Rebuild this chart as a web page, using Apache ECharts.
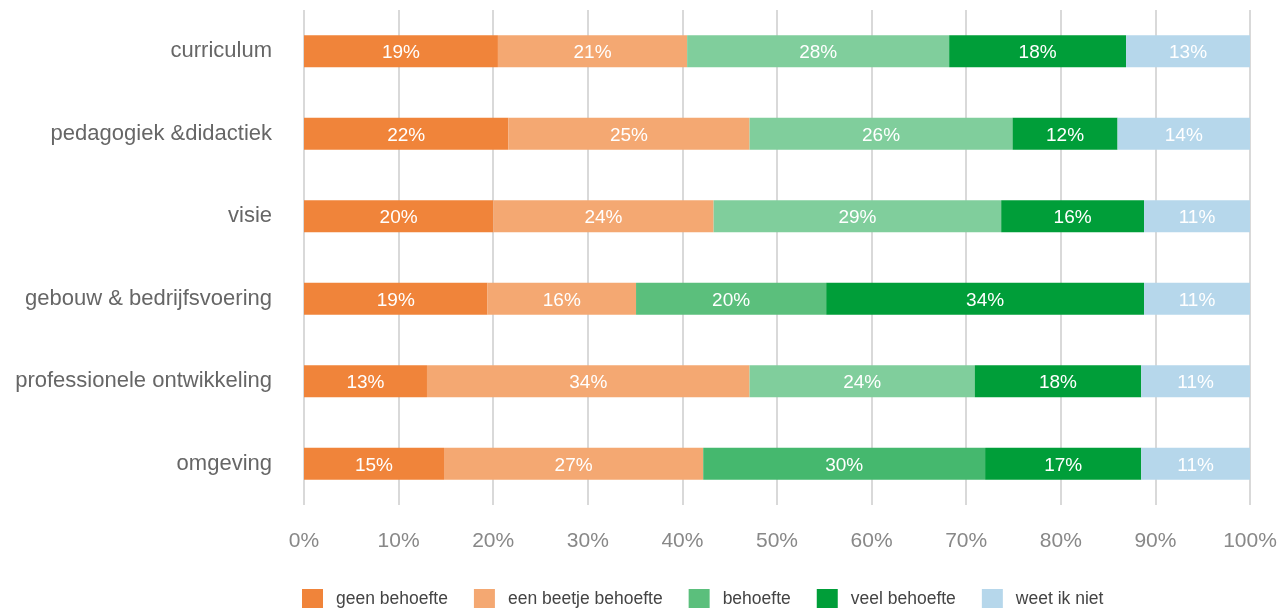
<!DOCTYPE html>
<html>
<head>
<meta charset="utf-8">
<script src="https://cdn.jsdelivr.net/npm/echarts@6/dist/echarts.min.js"></script>
<style>html,body{margin:0;padding:0;background:#fff}#c{width:1280px;height:608px}</style>
</head>
<body>
<div id="c"></div>
<script>
const categories = ["curriculum", "pedagogiek &didactiek", "visie", "gebouw & bedrijfsvoering", "professionele ontwikkeling", "omgeving"];
const seriesNames = ["geen behoefte", "een beetje behoefte", "behoefte", "veel behoefte", "weet ik niet"];
// segment widths (percent of row)
const geenBehoefte = [20.5, 21.6, 20.0, 19.4, 13.0, 14.8];
const beetjeBehoefte = [20.0, 25.5, 23.3, 15.7, 34.1, 27.4];
const behoefte = [27.7, 27.8, 30.4, 20.1, 23.8, 29.8];
const veelBehoefte = [18.7, 11.1, 15.1, 33.6, 17.6, 16.5];
const weetIkNiet = [13.1, 14.0, 11.2, 11.2, 11.5, 11.5];
// printed labels
const geenLabels = [19, 22, 20, 19, 13, 15];
const beetjeLabels = [21, 25, 24, 16, 34, 27];
const behoefteLabels = [28, 26, 29, 20, 24, 30];
const veelLabels = [18, 12, 16, 34, 18, 17];
const weetLabels = [13, 14, 11, 11, 11, 11];
const xTicks = [0, 10, 20, 30, 40, 50, 60, 70, 80, 90, 100];

const colors = ["#f0843a", "#f4a872", "#5bbf7c", "#009e39", "#b6d7eb"];
const behoefteRowColors = ["#80ce9c", "#80ce9c", "#80ce9c", "#5bbf7c", "#80ce9c", "#45b86e"];

const values = [geenBehoefte, beetjeBehoefte, behoefte, veelBehoefte, weetIkNiet];
const labels = [geenLabels, beetjeLabels, behoefteLabels, veelLabels, weetLabels];

const font = "'Liberation Sans', Arial, sans-serif";

const series = seriesNames.map((name, si) => ({
  name: name,
  type: 'bar',
  stack: 'total',
  barWidth: 32,
  itemStyle: { color: colors[si] },
  label: {
    show: true,
    position: 'inside',
    color: '#ffffff',
    fontFamily: font,
    fontSize: 19,
    offset: [0, 2],
    formatter: p => labels[si][p.dataIndex] + '%'
  },
  emphasis: { disabled: true },
  data: values[si].map((v, i) => si === 2 ? { value: v, itemStyle: { color: behoefteRowColors[i] } } : v)
}));

const chart = echarts.init(document.getElementById('c'), null, { renderer: 'canvas' });
chart.setOption({
  animation: false,
  color: colors,
  grid: { left: 304, right: 30, top: 10, bottom: 103, containLabel: false },
  xAxis: {
    type: 'value',
    min: 0,
    max: 100,
    interval: 10,
    axisLine: { show: false },
    axisTick: { show: false },
    splitLine: { show: true, lineStyle: { color: '#d9d9d9', width: 2 } },
    axisLabel: {
      margin: 26,
      color: '#888888',
      fontFamily: font,
      fontSize: 21,
      formatter: v => xTicks.includes(v) ? v + '%' : ''
    }
  },
  yAxis: {
    type: 'category',
    inverse: true,
    data: categories,
    axisLine: { show: false },
    axisTick: { show: false },
    splitLine: { show: false },
    axisLabel: {
      margin: 32,
      color: '#666666',
      fontFamily: font,
      fontSize: 22,
      padding: [0, 0, 10, 0]
    }
  },
  legend: {
    data: seriesNames,
    left: 302,
    top: 589,
    padding: 0,
    itemWidth: 21,
    itemHeight: 20,
    itemGap: 26,
    icon: 'rect',
    textStyle: {
      color: '#444444',
      fontFamily: font,
      fontSize: 17.5,
      padding: [0, 0, 0, 8]
    },
    selectedMode: false
  },
  series: series
});
</script>
</body>
</html>
